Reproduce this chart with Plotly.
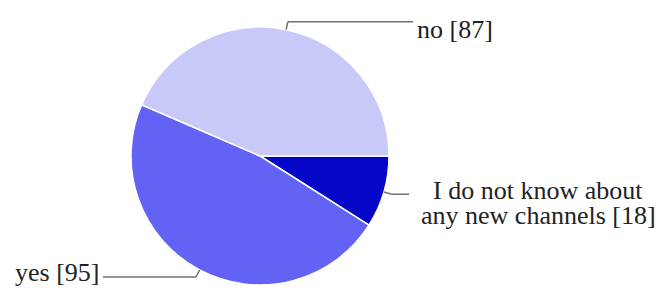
import math
import plotly.graph_objects as go

# ---- data ----
labels = ["I do not know about any new channels", "yes", "no"]
values = [18, 95, 87]
colors = ["#0606C8", "#6262F5", "#C9C9F9"]

# ---- layout constants (pixels) ----
W, H = 667, 291
CX, CY, R = 260, 156, 129          # pie centre / radius in px
ELBOW = 8                          # radial tick length of leader line
FONT = dict(family="Liberation Serif", size=26, color="#222222")
LINE = dict(color="#6f6f6f", width=1.5)
# per-slice label layout: horizontal end of leader line, text anchor, text offset
label_layout = [
    dict(end_x=409, side="right", lines=["I do not know about", "any new channels [18]"], tx=538, ty=[190, 215]),
    dict(end_x=103, side="left", lines=["yes [95]"], tx=101, ty=[272]),
    dict(end_x=413, side="right", lines=["no [87]"], tx=415, ty=[30]),
]

fig = go.Figure(go.Pie(
    labels=labels, values=values, sort=False, direction="clockwise", rotation=90,
    marker=dict(colors=colors, line=dict(color="white", width=1.5)),
    textinfo="none", hoverinfo="label+value", showlegend=False,
    domain=dict(x=[(CX - R) / W, (CX + R) / W], y=[(H - CY - R) / H, (H - CY + R) / H]),
))

def px(x, y):
    return x / W, 1 - y / H

total = sum(values)
start = 0.0
shapes, annotations = [], []
for v, lay in zip(values, label_layout):
    span = 360.0 * v / total
    mid = math.radians(start + span / 2)
    start += span
    ex, ey = CX + R * math.cos(mid), CY + R * math.sin(mid)
    bx, by = CX + (R + ELBOW) * math.cos(mid), CY + (R + ELBOW) * math.sin(mid)
    for (x0, y0, x1, y1) in [(ex, ey, bx, by), (bx, by, lay["end_x"], by)]:
        a0, b0 = px(x0, y0)
        a1, b1 = px(x1, y1)
        shapes.append(dict(type="line", xref="paper", yref="paper", x0=a0, y0=b0, x1=a1, y1=b1, line=LINE))
    if len(lay["lines"]) > 1:
        xanchor = "center"
    else:
        xanchor = "left" if lay["side"] == "right" else "right"
    for t, ty in zip(lay["lines"], lay["ty"]):
        ax, ay = px(lay["tx"], ty)
        annotations.append(dict(text=t, x=ax, y=ay, xref="paper", yref="paper", showarrow=False,
                                xanchor=xanchor, yanchor="middle", font=FONT))

fig.update_layout(width=W, height=H, margin=dict(l=0, r=0, t=0, b=0),
                  paper_bgcolor="white", plot_bgcolor="white",
                  shapes=shapes, annotations=annotations)
fig.write_html("out.html", config={"displayModeBar": False},
               post_script="document.body.style.margin='0';")
